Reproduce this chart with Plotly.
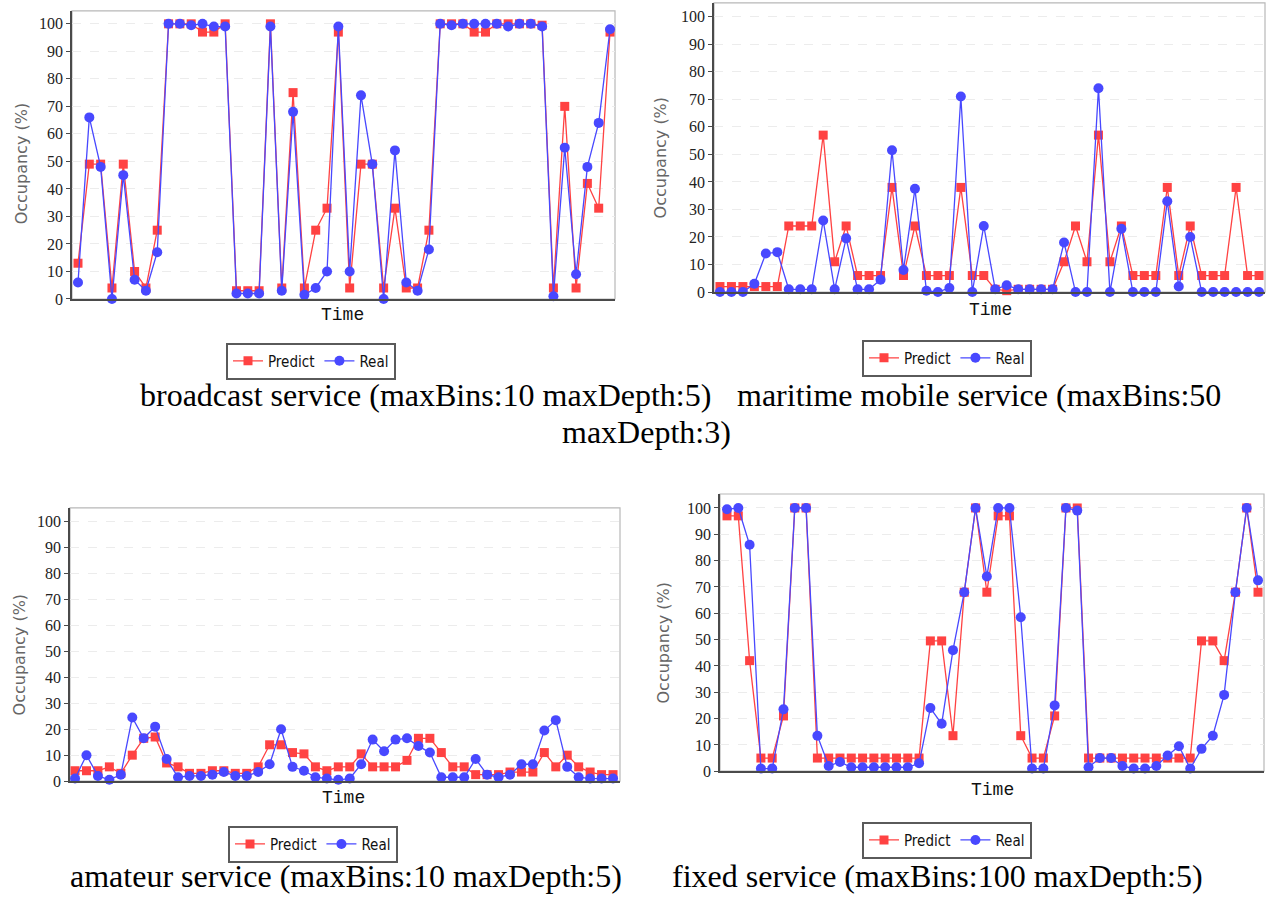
import plotly.graph_objects as go

W, H = 1268, 901

# ---------------- data ----------------
time_index = list(range(48))
y_tick_values = [0, 10, 20, 30, 40, 50, 60, 70, 80, 90, 100]
series_names = ["Predict", "Real"]

broadcast_predict = [13, 49, 49, 4, 49, 10, 4, 25, 100, 100, 100, 97, 97, 100, 3, 3, 3, 100, 4, 75,
                     4, 25, 33, 97, 4, 49, 49, 4, 33, 4, 4, 25, 100, 100, 100, 97, 97, 100, 100, 100,
                     100, 99.5, 4, 70, 4, 42, 33, 97]
broadcast_real = [6, 66, 48, 0, 45, 7, 3, 17, 100, 100, 99.5, 100, 99, 99, 2, 2, 2, 99, 3, 68,
                  1.5, 4, 10, 99, 10, 74, 49, 0, 54, 6, 3, 18, 100, 99.5, 100, 100, 100, 100, 99, 100,
                  100, 99, 1, 55, 9, 48, 64, 98]

maritime_predict = [2, 2, 2, 2, 2, 2, 24, 24, 24, 57, 11, 24, 6, 6, 6, 38, 6, 24, 6, 6,
                    6, 38, 6, 6, 1, 0.5, 1, 1, 1, 1, 11, 24, 11, 57, 11, 24, 6, 6, 6, 38,
                    6, 24, 6, 6, 6, 38, 6, 6]
maritime_real = [0, 0, 0, 3, 14, 14.5, 1, 1, 1, 26, 1, 19.5, 1, 1, 4.5, 51.5, 8, 37.5, 0.5, 0,
                 1.5, 71, 0, 24, 1, 2.5, 1, 1, 1, 1, 18, 0, 0, 74, 0, 23, 0, 0, 0, 33,
                 2, 20, 0, 0, 0, 0, 0, 0]

amateur_predict = [4, 4, 4, 5.5, 3, 10, 16.5, 17, 7, 5.5, 3, 3, 4, 4, 3, 3, 5.5, 14, 14, 11,
                   10.5, 5.5, 4, 5.5, 5.5, 10.5, 5.5, 5.5, 5.5, 8, 16.5, 16.5, 11, 5.5, 5.5, 2.5, 2.5, 2.5,
                   3.5, 3.5, 3.5, 11, 5.5, 10, 5.5, 3.5, 2.5, 2.5]
amateur_real = [1, 10, 2, 0.5, 2.5, 24.5, 16.5, 21, 8.5, 1.5, 2, 2, 2.5, 3.5, 2, 2, 3.5, 6.5, 20, 5.5,
                4, 1.5, 1, 0.5, 1, 6.5, 16, 11.5, 16, 16.5, 13.5, 11, 1.5, 1.5, 1.5, 8.5, 2.5, 1.5,
                2.5, 6.5, 6.5, 19.5, 23.5, 5.5, 1.5, 1, 1, 1]

fixed_predict = [97, 97, 42, 5, 5, 21, 100, 100, 5, 5, 5, 5, 5, 5, 5, 5, 5, 5, 49.5, 49.5,
                 13.5, 68, 100, 68, 97, 97, 13.5, 5, 5, 21, 100, 100, 5, 5, 5, 5, 5, 5, 5, 5,
                 5, 5, 49.5, 49.5, 42, 68, 100, 68]
fixed_real = [99.5, 100, 86, 1, 1, 23.5, 100, 100, 13.5, 2, 3.5, 1.5, 1.5, 1.5, 1.5, 1.5, 1.5, 3, 24, 18,
              46, 68, 100, 74, 100, 100, 58.5, 1, 1, 25, 100, 99, 1.5, 5, 5, 2, 1, 1, 2, 6,
              9.5, 1, 8.5, 13.5, 29, 68, 100, 72.5]

captions = ["broadcast service (maxBins:10 maxDepth:5)",
            "maritime mobile service (maxBins:50",
            "maxDepth:3)",
            "amateur service (maxBins:10 maxDepth:5)",
            "fixed service (maxBins:100 maxDepth:5)"]
x_title = "Time"
y_title = "Occupancy (%)"

# ---------------- layout helpers ----------------
def px_x(x):
    return x / W

def px_y(y):
    return 1 - y / H

RED = "#ff4242"
BLUE = "#4848ff"

panels = [
    dict(pred=broadcast_predict, real=broadcast_real,
         box=(72, 11, 615, 302), xr=[-0.53, 47.44], yr=[0, 104.7],
         time_pos=(342, 318), ytitle_pos=(21, 166), legend_pos=(226, 346)),
    dict(pred=maritime_predict, real=maritime_real,
         box=(714, 3, 1265, 295), xr=[-0.52, 47.52], yr=[0, 105.0],
         time_pos=(990, 313), ytitle_pos=(660, 160), legend_pos=(862, 343)),
    dict(pred=amateur_predict, real=amateur_real,
         box=(70, 513, 620, 789), xr=[-0.44, 47.61], yr=[0, 105.3],
         time_pos=(343, 806), ytitle_pos=(19, 662), legend_pos=(228, 834)),
    dict(pred=fixed_predict, real=fixed_real,
         box=(720, 499, 1264, 779), xr=[-0.62, 47.53], yr=[0, 105.3],
         time_pos=(992, 798), ytitle_pos=(664, 650), legend_pos=(862, 830)),
]

fig = go.Figure()
layout = dict(width=W, height=H, margin=dict(l=0, r=0, t=0, b=0),
              paper_bgcolor="white", plot_bgcolor="white", showlegend=True)
annotations = []
shapes = []

for i, p in enumerate(panels):
    n = i + 1
    sfx = "" if n == 1 else str(n)
    xa, ya = "x" + sfx, "y" + sfx
    leg = "legend" + sfx
    fig.add_trace(go.Scatter(x=time_index, y=p["pred"], name=series_names[0], mode="lines+markers",
                             xaxis=xa, yaxis=ya, legend=leg, cliponaxis=False,
                             line=dict(color=RED, width=1.3),
                             marker=dict(symbol="square", size=9, color=RED)))
    fig.add_trace(go.Scatter(x=time_index, y=p["real"], name=series_names[1], mode="lines+markers",
                             xaxis=xa, yaxis=ya, legend=leg, cliponaxis=False,
                             line=dict(color=BLUE, width=1.3),
                             marker=dict(symbol="circle", size=10, color=BLUE)))
    x0, y0, x1, y1 = p["box"]
    layout["xaxis" + sfx] = dict(domain=[px_x(x0), px_x(x1)], range=p["xr"], anchor=ya,
                                 showgrid=False, zeroline=False, showticklabels=False, ticks="",
                                 showline=True, linecolor="#4a4a4a", linewidth=1.5, fixedrange=True)
    layout["yaxis" + sfx] = dict(domain=[px_y(y1), px_y(y0)], range=p["yr"], anchor=xa,
                                 tickvals=y_tick_values, ticks="outside", ticklen=4, tickwidth=1,
                                 tickcolor="#4a4a4a",
                                 tickfont=dict(family="Liberation Serif", size=16, color="#222"),
                                 showgrid=True, gridcolor="#ececec", griddash="dash", gridwidth=1,
                                 zeroline=False, showline=True, linecolor="#4a4a4a", linewidth=1.5,
                                 fixedrange=True)
    shapes.append(dict(type="rect", xref=xa + " domain", yref=ya + " domain", x0=0, x1=1, y0=0, y1=1,
                       line=dict(color="#b8b8b8", width=1.2), layer="below"))
    lx, ly = p["legend_pos"]
    layout[leg] = dict(x=px_x(lx), y=px_y(ly), xanchor="left", yanchor="top", orientation="h",
                       bgcolor="white", bordercolor="#5a5a5a", borderwidth=2,
                       font=dict(family="Liberation Sans Narrow, DejaVu Sans Condensed, Liberation Sans",
                                 size=15, color="#111"),
                       itemwidth=30, tracegroupgap=0)
    tx, ty = p["time_pos"]
    annotations.append(dict(text=x_title, x=px_x(tx), y=px_y(ty), xref="paper", yref="paper",
                            xanchor="center", yanchor="middle", showarrow=False,
                            font=dict(family="Liberation Mono", size=18, color="#111")))
    yx, yy = p["ytitle_pos"]
    annotations.append(dict(text=y_title, x=px_x(yx), y=px_y(yy), xref="paper", yref="paper",
                            xanchor="center", yanchor="middle", showarrow=False, textangle=-90,
                            font=dict(family="DejaVu Sans, Liberation Sans", size=16, color="#666")))

caption_pos = [(138, 399), (735, 399), (560, 436), (68, 885), (670, 885)]
for text, (cx, cy) in zip(captions, caption_pos):
    annotations.append(dict(text=text, x=px_x(cx), y=px_y(cy), xref="paper", yref="paper",
                            xanchor="left", yanchor="middle", showarrow=False,
                            font=dict(family="Liberation Serif", size=32, color="#000")))

layout["annotations"] = annotations
layout["shapes"] = shapes
fig.update_layout(**layout)

fig.write_html("out.html", config={"displayModeBar": False},
               post_script="document.body.style.margin='0';document.body.style.padding='0';")
